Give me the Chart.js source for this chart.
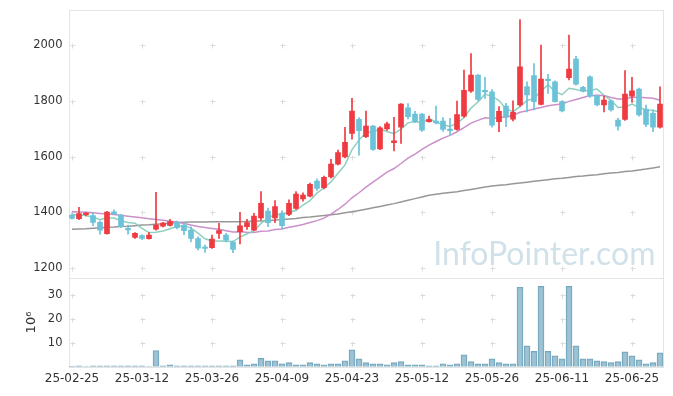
<!DOCTYPE html>
<html>
<head>
<meta charset="utf-8">
<script src="https://cdn.jsdelivr.net/npm/chart.js@4.4.1/dist/chart.umd.min.js"></script>
<style>
  body { margin: 0; background: #fff; }
  canvas { display: block; }
</style>
</head>
<body>
<canvas id="stockChart" width="673" height="396"></canvas>
<script>
const dates = [
  "25-02-25", "25-02-26", "25-02-27", "25-02-28", "25-03-04", "25-03-05", "25-03-06", "25-03-07", "25-03-10", "25-03-11",
  "25-03-12", "25-03-13", "25-03-14", "25-03-17", "25-03-18", "25-03-19", "25-03-20", "25-03-21", "25-03-24", "25-03-25",
  "25-03-26", "25-03-27", "25-03-28", "25-03-31", "25-04-01", "25-04-02", "25-04-03", "25-04-04", "25-04-07", "25-04-08",
  "25-04-09", "25-04-10", "25-04-11", "25-04-14", "25-04-15", "25-04-16", "25-04-17", "25-04-18", "25-04-21", "25-04-22",
  "25-04-23", "25-04-24", "25-04-25", "25-04-28", "25-04-29", "25-04-30", "25-05-02", "25-05-07", "25-05-08", "25-05-09",
  "25-05-12", "25-05-13", "25-05-14", "25-05-15", "25-05-16", "25-05-19", "25-05-20", "25-05-21", "25-05-22", "25-05-23",
  "25-05-26", "25-05-27", "25-05-28", "25-05-29", "25-05-30", "25-06-02", "25-06-04", "25-06-05", "25-06-09", "25-06-10",
  "25-06-11", "25-06-12", "25-06-13", "25-06-16", "25-06-17", "25-06-18", "25-06-19", "25-06-20", "25-06-23", "25-06-24",
  "25-06-25", "25-06-26", "25-06-27", "25-06-30", "25-07-01"
];

const opens = [
  1390, 1377, 1391, 1388, 1364, 1323, 1402, 1390, 1342, 1310,
  1316, 1305, 1339, 1350, 1353, 1364, 1354, 1336, 1306, 1273,
  1273, 1324, 1318, 1293, 1330, 1348, 1336, 1380, 1404, 1380,
  1396, 1392, 1414, 1448, 1458, 1512, 1488, 1527, 1573, 1599,
  1683, 1734, 1671, 1709, 1627, 1699, 1650, 1705, 1775, 1752,
  1752, 1725, 1727, 1727, 1699, 1697, 1745, 1835, 1892, 1838,
  1832, 1725, 1781, 1734, 1785, 1851, 1891, 1787, 1878, 1868,
  1797, 1883, 1950, 1848, 1886, 1817, 1785, 1800, 1731, 1733,
  1817, 1842, 1770, 1755, 1705
];
const highs = [
  1394, 1418, 1400, 1397, 1369, 1403, 1409, 1393, 1354, 1327,
  1320, 1327, 1472, 1364, 1375, 1368, 1363, 1348, 1312, 1282,
  1318, 1360, 1324, 1297, 1400, 1375, 1396, 1474, 1415, 1442,
  1405, 1445, 1474, 1470, 1505, 1520, 1530, 1590, 1623, 1705,
  1809, 1740, 1763, 1712, 1708, 1724, 1741, 1790, 1790, 1762,
  1755, 1745, 1781, 1740, 1737, 1799, 1910, 1970, 1894, 1884,
  1840, 1779, 1791, 1800, 2092, 1868, 1934, 2000, 1895, 1872,
  1800, 2036, 1960, 1852, 1890, 1820, 1817, 1803, 1737, 1909,
  1884, 1846, 1785, 1767, 1850
];
const lows = [
  1375, 1373, 1387, 1352, 1321, 1321, 1391, 1345, 1321, 1306,
  1302, 1303, 1336, 1347, 1350, 1340, 1320, 1294, 1265, 1256,
  1270, 1306, 1294, 1255, 1286, 1338, 1334, 1372, 1348, 1363,
  1340, 1388, 1410, 1440, 1455, 1478, 1484, 1522, 1570, 1595,
  1662, 1605, 1668, 1622, 1625, 1694, 1620, 1647, 1735, 1722,
  1690, 1723, 1717, 1690, 1677, 1695, 1740, 1830, 1800, 1809,
  1705, 1689, 1707, 1728, 1780, 1760, 1767, 1785, 1827, 1795,
  1760, 1875, 1856, 1832, 1812, 1782, 1760, 1763, 1695, 1730,
  1795, 1745, 1707, 1689, 1702
];
const closes = [
  1378, 1395, 1397, 1364, 1336, 1401, 1395, 1348, 1337, 1324,
  1306, 1318, 1354, 1361, 1367, 1345, 1334, 1306, 1271, 1270,
  1304, 1334, 1300, 1267, 1351, 1363, 1386, 1432, 1363, 1420,
  1352, 1432, 1465, 1462, 1500, 1486, 1525, 1573, 1614, 1651,
  1763, 1693, 1709, 1626, 1703, 1717, 1656, 1788, 1743, 1725,
  1695, 1733, 1721, 1697, 1693, 1751, 1838, 1892, 1805, 1832,
  1713, 1762, 1741, 1759, 1922, 1821, 1797, 1878, 1872, 1797,
  1764, 1914, 1860, 1836, 1817, 1785, 1803, 1767, 1709, 1824,
  1836, 1749, 1715, 1705, 1788
];

const ma5 = [
  1392, 1390, 1388, 1382, 1374, 1379, 1379, 1369, 1363, 1361,
  1342, 1327, 1328, 1333, 1341, 1349, 1352, 1343, 1325, 1305,
  1297, 1297, 1296, 1295, 1311, 1323, 1333, 1360, 1379, 1393,
  1391, 1400, 1406, 1426, 1442, 1469, 1488, 1509, 1540, 1570,
  1625, 1659, 1686, 1688, 1699, 1690, 1682, 1698, 1721, 1726,
  1721, 1737, 1723, 1714, 1708, 1719, 1740, 1774, 1796, 1824,
  1816, 1801, 1771, 1761, 1779, 1801, 1808, 1835, 1858, 1833,
  1822, 1845, 1841, 1834, 1838, 1842, 1820, 1802, 1776, 1778,
  1788, 1777, 1767, 1766, 1759
];
const ma20 = [
  1402, 1401, 1400, 1398, 1396, 1394, 1392, 1389, 1386, 1383,
  1380, 1377, 1374, 1371, 1368, 1365, 1360, 1354, 1349, 1345,
  1342, 1339, 1334, 1329, 1330, 1328, 1327, 1332, 1333, 1338,
  1340, 1346, 1351, 1356, 1363, 1370, 1379, 1393, 1410, 1429,
  1452, 1470, 1490, 1508, 1526, 1544, 1557, 1575, 1594, 1609,
  1626, 1641, 1654, 1666, 1676, 1689, 1704, 1720, 1730, 1739,
  1737, 1740, 1742, 1748, 1759, 1764, 1771, 1776, 1782, 1786,
  1789, 1798, 1805, 1812, 1819, 1820, 1819, 1812, 1807, 1807,
  1813, 1813, 1811, 1809, 1802
];
const ma120 = [
  1339, 1340, 1341, 1343, 1344, 1346, 1347, 1349, 1350, 1352,
  1354, 1355, 1357, 1359, 1361, 1363, 1364, 1365, 1365, 1365,
  1366, 1366, 1366, 1366, 1366, 1367, 1368, 1369, 1370, 1372,
  1374, 1376, 1378, 1381, 1383, 1386, 1388, 1391, 1394, 1398,
  1402, 1406, 1411, 1416, 1421, 1426, 1431, 1437, 1443, 1449,
  1455, 1461, 1465, 1468, 1471, 1474, 1478, 1482, 1486, 1491,
  1494, 1497, 1499, 1502, 1505, 1508, 1511, 1514, 1517, 1520,
  1522, 1525, 1528, 1530, 1533, 1535, 1538, 1541, 1543, 1546,
  1548, 1552, 1555, 1559, 1563
];

// volume in millions of shares
const volumes = [
  0.15, 0.4, 0.1, 0.4, 0.4, 0.4, 0.4, 0.4, 0.4, 0.4,
  0.4, 0.1, 6.8, 0.4, 0.8, 0.4, 0.4, 0.4, 0.4, 0.4,
  0.4, 0.4, 0.4, 0.4, 2.9, 0.8, 1.25, 3.5, 2.5, 2.5,
  1.25, 1.7, 0.8, 0.8, 1.7, 1.25, 0.8, 1.25, 1.25, 2.5,
  7.1, 3.3, 1.7, 1.25, 1.25, 0.8, 1.7, 2.1, 0.8, 0.8,
  0.8, 0.4, 0.4, 1.25, 0.8, 1.25, 5.0, 2.1, 1.25, 1.25,
  3.3, 1.7, 1.25, 1.25, 33.4, 8.75, 6.4, 33.7, 6.4, 4.6,
  3.3, 33.7, 8.75, 3.3, 3.3, 2.5, 2.1, 1.7, 2.1, 6.25,
  4.6, 2.9, 1.25, 1.7, 5.8
];

const priceTicks = [1200, 1400, 1600, 1800, 2000];
const volumeTicks = [10, 20, 30];

const UP = "#ee3a40";
const DOWN = "#6cc3d8";
const candleColors = closes.map((c, i) => (c >= opens[i] ? UP : DOWN));

const tickFont = { family: "DejaVu Sans", size: 11.5 };
const tickColor = "#333";

// frame, "+" grid marks and the watermark
const decorPlugin = {
  id: "decor",
  beforeDatasetsDraw(chart) {
    const { ctx, chartArea, scales } = chart;
    const x = scales.x, y = scales.y, yv = scales.yv;
    ctx.save();
    ctx.strokeStyle = "#e4e4e4";
    ctx.lineWidth = 1;
    const l = Math.round(chartArea.left) + 0.5, r = Math.round(chartArea.right) - 0.5;
    ctx.strokeRect(l, Math.round(y.top) + 0.5, r - l, Math.round(y.bottom) - Math.round(y.top));
    ctx.strokeRect(l, Math.round(yv.top) + 0.5, r - l, Math.round(yv.bottom) - Math.round(yv.top));

    ctx.strokeStyle = "#dcdcdc";
    const cross = (px, py) => {
      px = Math.round(px) + 0.5; py = Math.round(py) + 0.5;
      ctx.beginPath();
      ctx.moveTo(px - 2, py); ctx.lineTo(px + 3, py);
      ctx.moveTo(px, py - 2); ctx.lineTo(px, py + 3);
      ctx.stroke();
    };
    for (let i = 0; i < dates.length; i += 10) {
      const px = x.getPixelForValue(i);
      priceTicks.forEach(v => cross(px, y.getPixelForValue(v)));
      volumeTicks.forEach(v => cross(px, yv.getPixelForValue(v)));
    }

    ctx.font = "32px Lato";
    ctx.fillStyle = "rgba(150, 188, 208, 0.45)";
    ctx.textAlign = "right";
    ctx.textBaseline = "alphabetic";
    ctx.fillText("InfoPointer.com", chartArea.right - 8, y.bottom - 13);
    ctx.restore();
  }
};

const ctx = document.querySelector("#stockChart");

const lineSet = (label, data, color, order) => ({
  type: "line",
  label,
  data,
  yAxisID: "y",
  borderColor: color,
  borderWidth: 1.5,
  pointRadius: 0,
  tension: 0,
  order
});

const noPad = s => { s.paddingTop = 0; s.paddingBottom = 0; s.width = 68.5; };

new Chart(ctx, {
  type: "bar",
  data: {
    labels: dates,
    datasets: [
      {
        label: "body",
        data: opens.map((o, i) => [o, closes[i]]),
        backgroundColor: candleColors,
        borderWidth: 0,
        barThickness: 5,
        minBarLength: 1.5,
        grouped: false,
        yAxisID: "y",
        order: 0
      },
      {
        label: "wick",
        data: lows.map((lo, i) => [lo, highs[i]]),
        backgroundColor: candleColors,
        borderWidth: 0,
        barThickness: 1,
        grouped: false,
        yAxisID: "y",
        order: 1
      },
      lineSet("MA5", ma5, "rgba(130, 202, 184, 0.9)", 2),
      lineSet("MA20", ma20, "rgba(200, 138, 198, 0.95)", 3),
      lineSet("MA120", ma120, "rgba(140, 140, 140, 0.9)", 4),
      {
        label: "volume",
        data: volumes,
        backgroundColor: "rgba(140, 185, 205, 0.85)",
        borderColor: "#76a6bd",
        borderWidth: 1,
        barThickness: 6,
        grouped: false,
        yAxisID: "yv",
        order: 5
      }
    ]
  },
  options: {
    responsive: false,
    animation: false,
    devicePixelRatio: 1,
    layout: {
      padding: { top: 10, right: 9.5, left: 0, bottom: 0 }
    },
    scales: {
      x: {
        type: "category",
        offset: true,
        grid: { display: false, drawTicks: false },
        border: { display: false },
        ticks: {
          autoSkip: false,
          maxRotation: 0,
          padding: 5,
          font: { family: "DejaVu Sans", size: 12 },
          color: tickColor,
          callback: (v, i) => (i % 10 === 0 ? dates[i] : "")
        },
        afterFit: s => { s.height = 29.3; s.paddingLeft = 0; s.paddingRight = 0; }
      },
      yv: {
        position: "left",
        stack: "panels",
        stackWeight: 88.4,
        min: 0,
        max: 37.1,
        grid: { display: false, drawTicks: false },
        border: { display: false },
        afterBuildTicks: s => { s.ticks = volumeTicks.map(v => ({ value: v })); },
        ticks: { padding: 6, font: tickFont, color: tickColor, callback: v => String(v) },
        title: {
          display: true,
          text: "10⁶",
          font: { family: "DejaVu Sans", size: 13 },
          color: tickColor,
          padding: { top: 24, bottom: 0 }
        },
        afterFit: noPad
      },
      y: {
        position: "left",
        stack: "panels",
        stackWeight: 268.3,
        min: 1163,
        max: 2126,
        grid: { display: false, drawTicks: false },
        border: { display: false },
        afterBuildTicks: s => { s.ticks = priceTicks.map(v => ({ value: v })); },
        ticks: { padding: 6, font: tickFont, color: tickColor, callback: v => String(v) },
        afterFit: noPad
      }
    },
    plugins: {
      legend: { display: false },
      tooltip: { enabled: false }
    }
  },
  plugins: [decorPlugin]
});
</script>
</body>
</html>
